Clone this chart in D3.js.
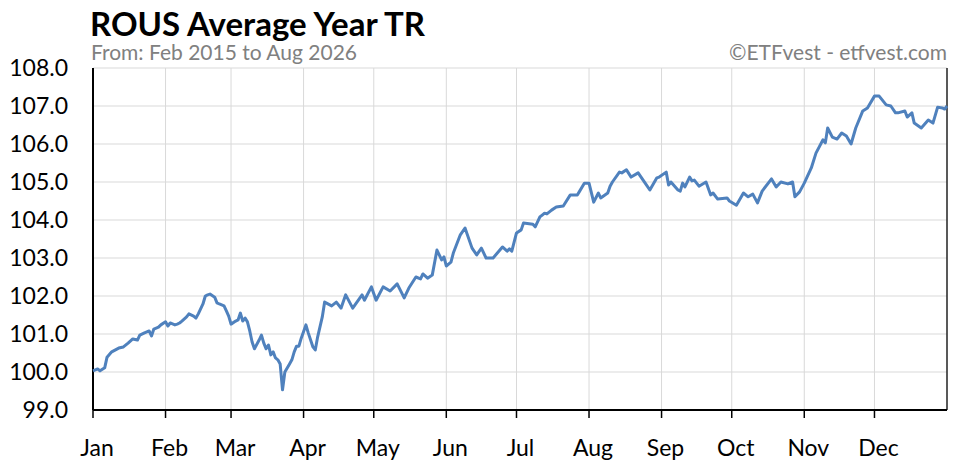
<!DOCTYPE html>
<html><head><meta charset="utf-8">
<script src="https://cdn.jsdelivr.net/npm/d3@7"></script>
<style>body{margin:0;background:#fff}svg{font-family:Lato,"Open Sans",sans-serif}</style>
</head><body><svg id="c" width="965" height="465"></svg>
<script>
const months=["Jan","Feb","Mar","Apr","May","Jun","Jul","Aug","Sep","Oct","Nov","Dec"];
const monthStart=[0,31,59,90,120,151,181,212,243,273,304,334];
const yTicks=[99,100,101,102,103,104,105,106,107,108];
const days=[0,2,3,5,6,8,11,13,15,17,19,20,22,24,25,26,28,29,31,32,33,35,36,37,38,40,41,43,44,45,47,48,49,50,52,53,54,56,57,58,59,61,62,63,64,65,66,67,68,69,71,72,73,74,75,76,77,78,79,80,81,82,84,85,86,87,88,89,91,92,94,95,96,98,99,102,104,106,108,111,115,116,119,121,124,127,130,133,135,138,140,141,143,145,147,149,150,151,153,154,157,159,162,164,166,168,171,175,177,178,179,181,183,184,188,189,191,192,193,194,196,198,201,204,207,208,210,212,214,216,217,220,221,222,225,226,228,230,233,236,238,241,242,245,246,247,250,251,252,253,255,256,257,259,262,264,265,267,271,272,275,278,280,282,284,286,290,292,294,297,299,300,302,304,307,309,312,313,314,316,318,320,322,324,326,329,331,334,336,339,341,343,344,347,348,350,351,354,357,359,361,363,364,365];
const values=[100.03,100.08,100.03,100.11,100.39,100.53,100.63,100.66,100.76,100.87,100.84,100.97,101.03,101.08,100.95,101.13,101.18,101.24,101.32,101.21,101.29,101.24,101.26,101.29,101.34,101.45,101.53,101.47,101.42,101.53,101.79,102.0,102.03,102.05,101.97,101.82,101.79,101.74,101.61,101.47,101.26,101.34,101.37,101.55,101.34,101.42,101.32,101.08,100.79,100.61,100.84,100.97,100.76,100.61,100.71,100.45,100.53,100.37,100.32,100.21,99.53,100.0,100.21,100.32,100.53,100.68,100.68,100.89,101.24,101.03,100.66,100.58,100.92,101.45,101.84,101.74,101.84,101.68,102.03,101.68,102.03,101.89,102.24,101.89,102.24,102.13,102.32,101.95,102.21,102.5,102.45,102.58,102.47,102.55,103.21,102.95,103.03,102.79,102.89,103.13,103.61,103.79,103.26,103.08,103.26,103.0,103.0,103.29,103.18,103.24,103.18,103.66,103.74,103.92,103.89,103.82,104.08,104.13,104.18,104.16,104.26,104.34,104.37,104.66,104.66,104.76,104.97,104.97,104.47,104.71,104.58,104.71,104.89,105.0,105.26,105.24,105.32,105.13,105.24,104.97,104.79,105.11,105.13,105.26,104.92,105.0,104.79,104.76,104.97,104.87,105.13,105.03,105.05,104.89,105.0,104.66,104.71,104.55,104.58,104.5,104.39,104.71,104.61,104.68,104.45,104.76,105.08,104.87,105.0,104.95,105.0,104.61,104.74,104.97,105.37,105.76,106.11,106.03,106.42,106.18,106.13,106.29,106.21,106.0,106.42,106.87,106.95,107.26,107.26,107.03,107.0,106.82,106.82,106.87,106.71,106.82,106.55,106.42,106.63,106.55,106.97,106.95,106.92,107.0];

const svg=d3.select("#c");
const L=93,R=947,T=68,B=410;
const x=d3.scaleLinear().domain([0,365]).range([L,R]);
const y=d3.scaleLinear().domain([99,108]).range([B,T]);
const g=svg.append("g");
g.selectAll(".gy").data(yTicks).join("line").attr("x1",L).attr("x2",R).attr("y1",d=>y(d)).attr("y2",d=>y(d)).attr("stroke","#d9d9d9");
g.selectAll(".gx").data(monthStart.slice(1)).join("line").attr("x1",d=>x(d)).attr("x2",d=>x(d)).attr("y1",T).attr("y2",B).attr("stroke","#d9d9d9");
g.append("line").attr("x1",R).attr("x2",R).attr("y1",T).attr("y2",B).attr("stroke","#222").attr("stroke-width",1.5);
g.append("line").attr("x1",L).attr("x2",L).attr("y1",T).attr("y2",B).attr("stroke","#000").attr("stroke-width",2);
g.append("line").attr("x1",L).attr("x2",R).attr("y1",B).attr("y2",B).attr("stroke","#000").attr("stroke-width",2);
g.selectAll(".tk").data(monthStart).join("line").attr("x1",d=>x(d)).attr("x2",d=>x(d)).attr("y1",B).attr("y2",B+8).attr("stroke","#000").attr("stroke-width",1.5);
g.selectAll(".yl").data(yTicks).join("text").attr("x",68).attr("y",d=>y(d)+8).attr("text-anchor","end").attr("font-size",23).attr("fill","#000").text(d=>d.toFixed(1));
g.selectAll(".xl").data(months).join("text").attr("x",(d,i)=>x(monthStart[i])+4).attr("y",456).attr("text-anchor","middle").attr("font-size",23).attr("fill","#000").text(d=>d);
const pts=days.map((d,i)=>[d,values[i]]);
g.append("path").datum(pts).attr("fill","none").attr("stroke","#4f81bd").attr("stroke-width",3).attr("stroke-linejoin","round")
 .attr("d",d3.line().x(d=>x(d[0])).y(d=>y(d[1])));
svg.append("text").attr("x",90).attr("y",36).attr("font-size",33).attr("font-weight","bold").text("ROUS Average Year TR");
svg.append("text").attr("x",91).attr("y",60).attr("font-size",21).attr("fill","#808080").text("From: Feb 2015 to Aug 2026");
svg.append("text").attr("x",947).attr("y",60).attr("text-anchor","end").attr("font-size",21).attr("fill","#808080").text("©ETFvest - etfvest.com");
</script></body></html>
